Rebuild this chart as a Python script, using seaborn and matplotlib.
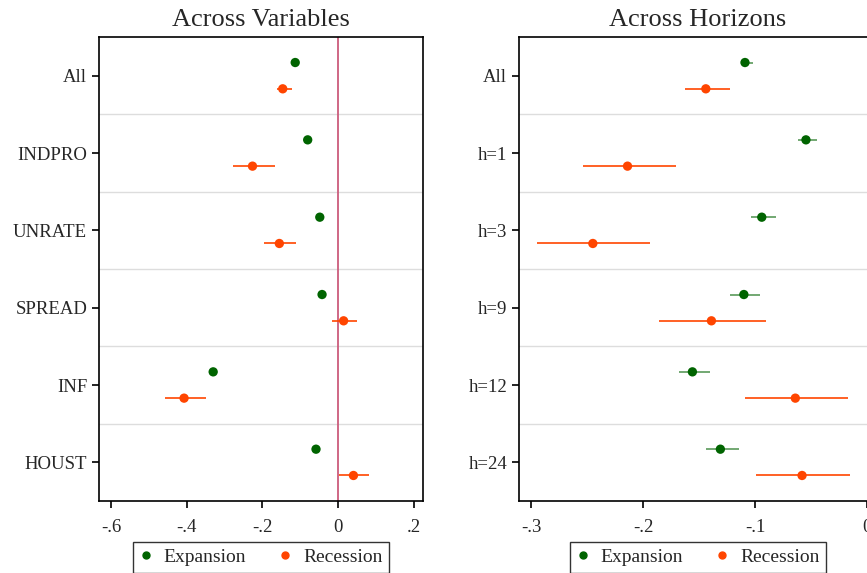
import matplotlib
matplotlib.use("Agg")
import matplotlib.pyplot as plt
from matplotlib.lines import Line2D
import numpy as np
import pandas as pd
import seaborn as sns

# Across variables
var_labels = ["All", "INDPRO", "UNRATE", "SPREAD", "INF", "HOUST"]
var_exp = [-0.113, -0.080, -0.048, -0.042, -0.330, -0.058]
var_exp_lo = [-0.119, -0.086, -0.054, -0.047, -0.336, -0.064]
var_exp_hi = [-0.107, -0.074, -0.042, -0.037, -0.324, -0.052]
var_rec = [-0.146, -0.226, -0.155, 0.015, -0.407, 0.041]
var_rec_lo = [-0.162, -0.277, -0.195, -0.017, -0.458, 0.004]
var_rec_hi = [-0.122, -0.166, -0.110, 0.051, -0.350, 0.082]

# Across horizons
hor_labels = ["All", "h=1", "h=3", "h=9", "h=12", "h=24"]
hor_exp = [-0.109, -0.0545, -0.094, -0.110, -0.156, -0.131]
hor_exp_lo = [-0.113, -0.062, -0.104, -0.122, -0.168, -0.144]
hor_exp_hi = [-0.102, -0.045, -0.081, -0.096, -0.140, -0.114]
hor_rec = [-0.144, -0.214, -0.245, -0.139, -0.064, -0.058]
hor_rec_lo = [-0.163, -0.254, -0.295, -0.186, -0.109, -0.099]
hor_rec_hi = [-0.122, -0.171, -0.194, -0.090, -0.017, -0.015]

GREEN = "#006400"
GREEN_CI = "#5a9a5a"
ORANGE = "#ff4500"
OFFSET = 0.17

sns.set_style("white")
plt.rcParams["font.family"] = ["Liberation Serif", "DejaVu Serif"]


def fmt(v, _pos=None):
    s = f"{v:g}"
    return s.replace("0.", ".")


def coef_panel(ax, labels, exp, exp_lo, exp_hi, rec, rec_lo, rec_hi, title, xticks, xlim):
    n = len(labels)
    pos = np.arange(n)
    df = pd.DataFrame({
        "coef": list(exp) + list(rec),
        "y": list(pos - OFFSET) + list(pos + OFFSET),
        "regime": ["Expansion"] * n + ["Recession"] * n,
    })
    for k in range(1, n):
        ax.axhline(k - 0.5, color="#dddddd", lw=1, zorder=0)
    ax.hlines(pos - OFFSET, exp_lo, exp_hi, color=GREEN_CI, lw=1.2, zorder=2)
    ax.hlines(pos + OFFSET, rec_lo, rec_hi, color=ORANGE, lw=1.2, zorder=2)
    sns.scatterplot(data=df, x="coef", y="y", hue="regime",
                    palette={"Expansion": GREEN, "Recession": ORANGE},
                    s=45, edgecolor="none", legend=False, ax=ax, zorder=3)
    ax.set_ylim(n - 0.5, -0.5)
    ax.set_yticks(pos)
    ax.set_yticklabels(labels)
    ax.set_xlim(*xlim)
    ax.set_xticks(xticks)
    ax.xaxis.set_major_formatter(plt.FuncFormatter(fmt))
    ax.set_xlabel("")
    ax.set_ylabel("")
    ax.set_title(title, fontsize=19, pad=8)
    ax.tick_params(axis="both", labelsize=13.5, length=5, width=1.2,
                   direction="out", color="black", left=True, bottom=True)
    ax.tick_params(axis="x", pad=8)
    for sp in ax.spines.values():
        sp.set_color("black")
        sp.set_linewidth(1.2)
    handles = [
        Line2D([], [], marker="o", ls="", color=GREEN, markersize=5, label="Expansion"),
        Line2D([], [], marker="o", ls="", color=ORANGE, markersize=5, label="Recession"),
    ]
    leg = ax.legend(handles=handles, loc="upper center", bbox_to_anchor=(0.5, -0.088),
                    borderaxespad=0, ncol=2, frameon=True, fancybox=False, fontsize=14,
                    handlelength=0.6, columnspacing=1.75, handletextpad=0.6,
                    borderpad=0.35)
    leg.get_frame().set_edgecolor("black")
    leg.get_frame().set_linewidth(1.0)


fig = plt.figure(figsize=(8.67, 5.73), dpi=100)
ax1 = fig.add_axes([99 / 867, 1 - 501 / 573, 324 / 867, 464 / 573])
ax2 = fig.add_axes([519 / 867, 1 - 501 / 573, 358 / 867, 464 / 573])

coef_panel(ax1, var_labels, var_exp, var_exp_lo, var_exp_hi,
           var_rec, var_rec_lo, var_rec_hi, "Across Variables",
           [-0.6, -0.4, -0.2, 0, 0.2], (-0.632, 0.225))
ax1.axvline(0, color="#cc5c7c", lw=1.3, zorder=1)

coef_panel(ax2, hor_labels, hor_exp, hor_exp_lo, hor_exp_hi,
           hor_rec, hor_rec_lo, hor_rec_hi, "Across Horizons",
           [-0.3, -0.2, -0.1, 0], (-0.311, 0.009))

fig.savefig("out.png", dpi=100)
